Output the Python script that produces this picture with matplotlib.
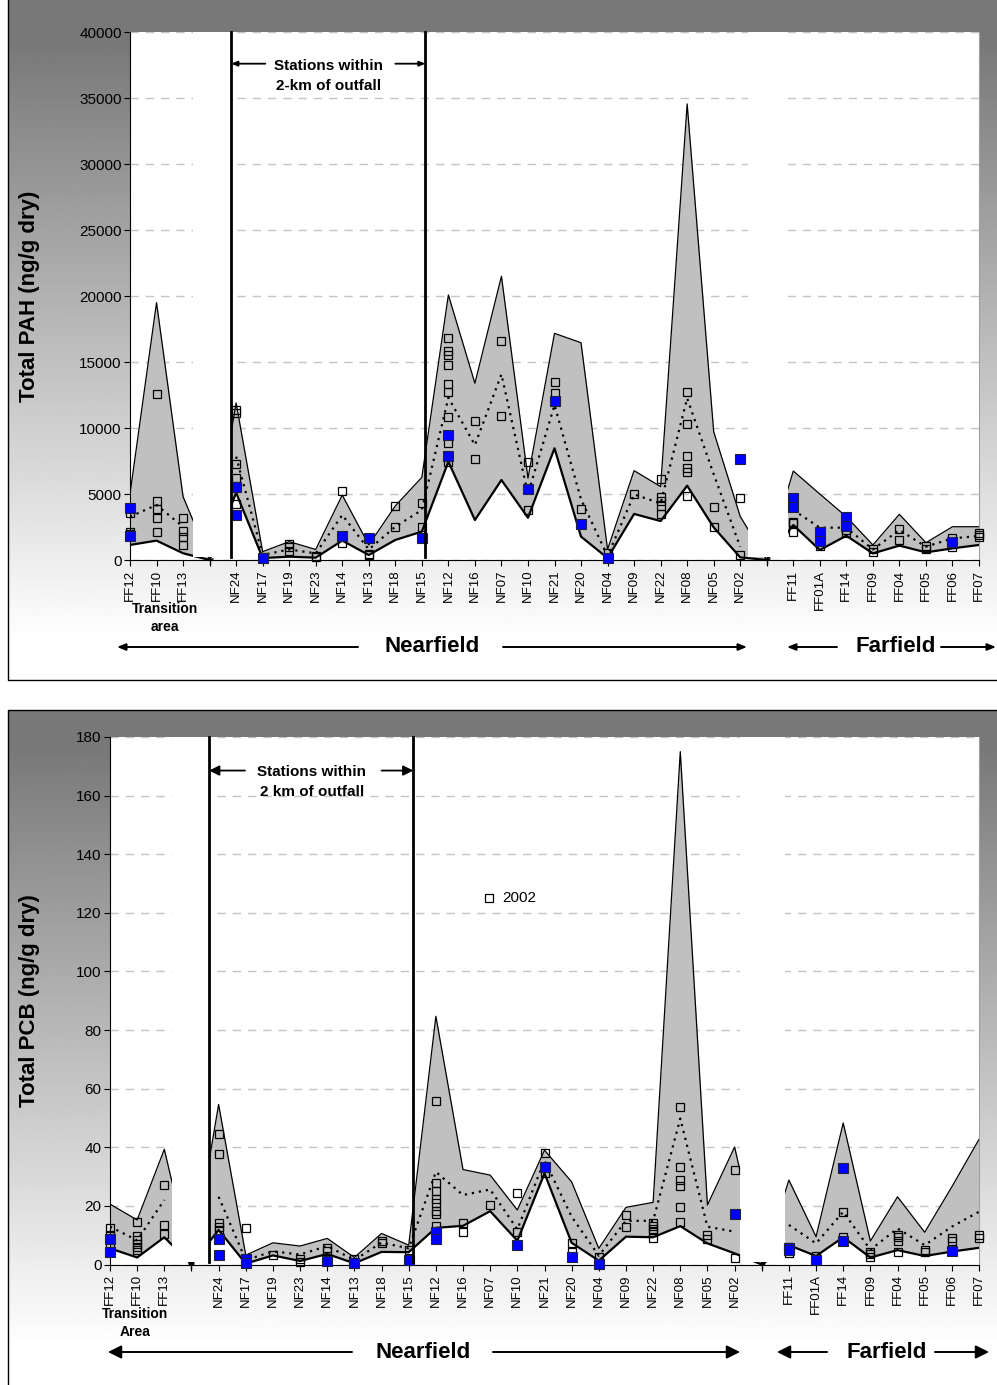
import numpy as np
import matplotlib
matplotlib.use('Agg')
import matplotlib.pyplot as plt
from matplotlib.patches import Rectangle

plt.rcParams['font.family'] = ['Liberation Sans', 'DejaVu Sans']

nan = np.nan
stations = ['FF12', 'FF10', 'FF13', '', 'NF24', 'NF17', 'NF19', 'NF23', 'NF14', 'NF13',
            'NF18', 'NF15', 'NF12', 'NF16', 'NF07', 'NF10', 'NF21', 'NF20', 'NF04', 'NF09',
            'NF22', 'NF08', 'NF05', 'NF02', '', 'FF11', 'FF01A', 'FF14', 'FF09', 'FF04',
            'FF05', 'FF06', 'FF07']

# ---------------- PAH (ng/g dry) ----------------
pah_max = [5000, 19500, 4800, 0, 11900, 630, 1390, 800, 4920, 1140, 4100, 6260, 20080, 13390,
           21500, 6200, 17170, 16460, 800, 6770, 5560, 34550, 9720, 3300, 0, 6740, 5000, 3280,
           1140, 3460, 1310, 2520, 2520]
pah_min = [1140, 1470, 510, 0, 5100, 150, 250, 180, 1470, 380, 1520, 2150, 7450, 3030, 6060,
           3200, 8460, 1770, 150, 3490, 2950, 5630, 2470, 200, 0, 2650, 760, 1840, 500, 1090,
           580, 880, 1140]
pah_mean = [3280, 4170, 2520, nan, 7830, 380, 800, 500, 3410, 800, 2520, 3790, 12300, 8710,
            14070, 5000, 11740, 4600, 300, 4970, 4290, 12250, 6500, 1000, nan, 3790, 2450, 2450,
            800, 2270, 1010, 1640, 1820]
pah_2002 = [[3540, 2150, 2000], [12580, 4470, 3860, 3200, 2100], [3200, 2200, 1770, 1110], [],
            [11360, 11110, 7270, 6190, 4220], [200], [1190, 1010, 700], [330, 250], [5250, 1260],
            [450, 380], [4120, 2530], [4290, 2520],
            [16790, 15860, 15530, 14770, 13330, 12750, 10810, 8840, 7450], [10550, 7650],
            [16620, 10910], [7400, 3760], [13510, 12680], [3860], [500], [4970],
            [6140, 4750, 4470, 4090, 3460], [12750, 10300, 7900, 6990, 6640, 4870], [4040, 2480],
            [4720, 380], [], [2900, 2800, 2150], [1060], [2300, 2070], [800, 600], [2350, 1540],
            [1060, 840], [1640, 1010], [2020, 1900, 1770]]
pah_new = [[3960, 1820], [], [], [], [5550, 3390], [130], [], [], [1820], [1690], [], [1640],
           [9470, 7880], [], [], [5390], [12070], [2700], [130], [], [], [], [], [7650], [],
           [4670, 4040], [2100, 1440], [3280, 2600], [], [], [], [1390], []]

# ---------------- PCB (ng/g dry) ----------------
pcb_max = [20.6, 15.2, 39.3, 0, 54.6, 3.2, 7.4, 6.3, 8.9, 2.4, 10.6, 6.6, 84.7, 32.4, 30.5, 18.6,
           39.0, 28.2, 5.5, 19.5, 21.2, 175, 20.3, 40.1, 0, 28.8, 9.5, 48.3, 8.0, 23.1, 11.0, 26.5,
           42.7]
pcb_min = [5.5, 2.4, 9.3, 0, 11.8, 0.3, 3.1, 1.2, 3.6, 0.4, 4.3, 4.2, 12.5, 13.2, 18.2, 8.1, 31.1,
           7.4, 1.3, 9.5, 9.3, 13.1, 7.2, 3.8, 0, 6.6, 2.9, 9.3, 2.4, 4.9, 2.9, 4.4, 5.7]
pcb_mean = [12.9, 8.3, 22.0, nan, 23.1, 1.5, 4.5, 3.4, 6.3, 1.5, 7.5, 5.5, 31.6, 23.7, 25.6, 12.0,
            35.5, 16.3, 3.0, 14.9, 14.9, 49.8, 12.9, 11.2, nan, 13.5, 7.2, 18.0, 5.0, 12.3, 6.6,
            12.9, 18.0]
pcb_2002 = [[12.3, 10, 7.5], [14.4, 9.8, 8.5, 7, 6, 5], [27.1, 13.5, 10.3], [],
            [44.4, 37.7, 14.2, 12.9, 11.7], [12.3], [3.4], [1.8, 0.9], [5.6, 4.7], [1.8],
            [8.1, 7.2], [5.0], [55.7, 27.7, 25.2, 22.4, 21, 18.1, 17.3, 13], [14.2, 11], [20.3],
            [24.5, 11.2], [37.9, 31.1], [7.2, 4.4], [2.7], [16.9, 12.9], [14, 13, 12, 11, 9],
            [53.8, 33.1, 28.7, 26.8, 19.5, 14.6], [10, 8.7], [32.4, 2.1], [], [6, 3.8], [2.9],
            [17.8, 9.5], [4.4, 3.6, 2.7], [10.2, 9.3, 8.1, 4.2], [5, 4.2], [9, 8.1], [9.9, 9]]
pcb_new = [[8.6, 4.2], [], [], [], [8.6, 3.2], [1.8, 0.4], [], [], [1.2], [0.6], [], [1.5],
           [11, 8.6], [], [], [6.6], [33.1], [2.7], [0.3], [], [], [], [], [17.3], [],
           [5.5, 5.0], [1.5], [32.8, 8.1], [], [], [], [4.7], []]

W, H = 997, 1385
fig = plt.figure(figsize=(W / 100, H / 100), dpi=100)

# background axes in pixel coords
bg = fig.add_axes([0, 0, 1, 1], zorder=-5)
bg.set_xlim(0, W)
bg.set_ylim(H, 0)
bg.axis('off')


def gradient(y0, y1, ydark, ywhite):
    ys = np.linspace(y0, y1, 400)
    v = 120 + 135 * np.clip((ys - ydark) / (ywhite - ydark), 0, 1)
    img = np.repeat((v / 255.0)[:, None], 2, axis=1)
    bg.imshow(img, cmap='gray', vmin=0, vmax=1, extent=[8, W, y1, y0], aspect='auto',
              interpolation='bilinear', zorder=0)


gradient(0, 680, 40, 640)
gradient(710, 1385, 745, 1345)
bg.plot([8, 8, W], [0, 680, 680], color='black', lw=1.0, zorder=2)
bg.plot([W, 8, 8], [710, 710, H], color='black', lw=1.0, zorder=2)

x = np.arange(len(stations))


def panel(rect_px, vmax, step, ylabel, mx, mn, mean, s2002, snew, gaps, cover_bottom,
          vlines, vline_bottom, ann_y, ann_text, ann_xc, ann_left, ann_right, head):
    l, t, r, b = rect_px
    ax = fig.add_axes([l / W, 1 - b / H, (r - l) / W, (b - t) / H])
    ax.set_facecolor('white')
    ax.set_xlim(0, len(stations) - 1)
    ax.set_ylim(0, vmax)
    ax.set_yticks(np.arange(0, vmax + step / 2, step))
    ax.yaxis.grid(True, color='#c4c4c4', linestyle=(0, (6, 5)), lw=1.0, zorder=0)
    ax.set_axisbelow(True)
    ax.spines['top'].set_visible(False)
    ax.spines['right'].set_color('#a0a0a0')
    ax.spines['left'].set_color('black')
    ax.spines['bottom'].set_color('black')
    ax.set_xticks(x)
    ax.set_xticklabels(stations, rotation=90, fontsize=9.5)
    ax.tick_params(axis='x', direction='out', length=4, pad=3)
    ax.tick_params(axis='y', direction='out', length=4, labelsize=11, pad=2)
    ax.set_ylabel(ylabel, fontsize=16, fontweight='bold')
    ax.yaxis.set_label_coords((40 - l) / (r - l), 0.5)

    mxa = np.array(mx, float)
    mna = np.array(mn, float)
    ax.fill_between(x, mna, mxa, color='#c0c0c0', lw=0, zorder=1)
    ax.plot(x, mxa, color='black', lw=0.9, zorder=2)
    ax.plot(x, mna, color='black', lw=1.6, zorder=2)
    ax.plot(x, mean, color='black', lw=1.6, linestyle=(0, (1, 2.2)), zorder=3)

    # gap covers
    for g0, g1 in gaps:
        ax.add_patch(Rectangle((g0, cover_bottom), g1 - g0, vmax - cover_bottom,
                               facecolor='white', edgecolor='none', zorder=4))
    for gi in [3, 24]:
        ax.plot([gi], [0], marker='1', color='black', ms=6, mew=1.0, zorder=5, clip_on=False)

    xs = [i for i, vals in enumerate(s2002) for _ in vals]
    ys = [v for vals in s2002 for v in vals]
    ax.plot(xs, ys, ls='none', marker='s', ms=5.2, mfc='none', mec='black', mew=0.9,
            zorder=6, clip_on=False)
    xn = [i for i, vals in enumerate(snew) for _ in vals]
    yn = [v for vals in snew for v in vals]
    ax.plot(xn, yn, ls='none', marker='s', ms=7.5, mfc='#0000ff', mec='#202040', mew=0.8,
            zorder=7, clip_on=False)

    for vx in vlines:
        ax.plot([vx, vx], [vline_bottom, vmax], color='black', lw=2.0, zorder=8, clip_on=False)

    ax.text(ann_xc, ann_y, ann_text, ha='center', va='center', fontsize=11,
            fontweight='bold', linespacing=1.55, zorder=9)
    line1_y = ann_y + vmax * 0.0225
    ax.annotate('', xy=(vlines[0], line1_y), xytext=(ann_left, line1_y),
                arrowprops=dict(arrowstyle=head, color='black', lw=1.3, shrinkA=0, shrinkB=0),
                zorder=9)
    ax.annotate('', xy=(vlines[1], line1_y), xytext=(ann_right, line1_y),
                arrowprops=dict(arrowstyle=head, color='black', lw=1.3, shrinkA=0, shrinkB=0),
                zorder=9)
    return ax


ax1 = panel((130, 32, 979, 560), 40000, 5000, 'Total PAH (ng/g dry)', pah_max, pah_min,
            pah_mean, pah_2002, pah_new, [(2.38, 3.80), (23.3, 24.8)], 260,
            [3.82, 11.13], 250, 36700, 'Stations within\n2-km of outfall', 7.48, 5.1, 10.0,
            '-|>,head_length=0.35,head_width=0.15')
ax2 = panel((110, 737, 979, 1264.5), 180, 20, 'Total PCB (ng/g dry)', pcb_max, pcb_min,
            pcb_mean, pcb_2002, pcb_new, [(2.27, 3.63), (23.2, 24.85)], 1.0,
            [3.65, 11.17], 0.8, 164.5, 'Stations within\n2 km of outfall', 7.43, 4.97, 10.0,
            '-|>,head_length=0.6,head_width=0.3')
ax2.set_yticklabels([str(v) for v in range(0, 181, 20)])

# legend in lower panel
ax2.plot([13.95], [125], ls='none', marker='s', ms=5.2, mfc='white', mec='black',
         mew=0.9, zorder=10)
ax2.text(14.45, 125, '2002', fontsize=11, va='center', ha='left', zorder=10)

# Transition area labels
bg.text(165, 618, 'Transition\narea', ha='center', va='center', fontsize=10,
        fontweight='bold', linespacing=1.35)
bg.text(135, 1323, 'Transition\nArea', ha='center', va='center', fontsize=10,
        fontweight='bold', linespacing=1.4)


def region_arrow(y, x0, x1, head):
    bg.annotate('', xy=(x1, y), xytext=(x0, y),
                arrowprops=dict(arrowstyle=head, color='black', lw=1.4, shrinkA=0, shrinkB=0))


h_top = '-|>,head_length=0.5,head_width=0.2'
h_bot = '-|>,head_length=0.8,head_width=0.4'
# top panel
region_arrow(647, 358, 117, h_top)
bg.text(432, 647, 'Nearfield', ha='center', va='center', fontsize=16, fontweight='bold')
region_arrow(647, 503, 747, h_top)
region_arrow(647, 837, 787, h_top)
bg.text(896, 647, 'Farfield', ha='center', va='center', fontsize=16, fontweight='bold')
region_arrow(647, 941, 996, h_top)
# bottom panel
region_arrow(1352, 352, 108, h_bot)
bg.text(423, 1352, 'Nearfield', ha='center', va='center', fontsize=16, fontweight='bold')
region_arrow(1352, 493, 740, h_bot)
region_arrow(1352, 827, 777, h_bot)
bg.text(887, 1352, 'Farfield', ha='center', va='center', fontsize=16, fontweight='bold')
region_arrow(1352, 935, 989, h_bot)

fig.savefig('out.png', dpi=100)
